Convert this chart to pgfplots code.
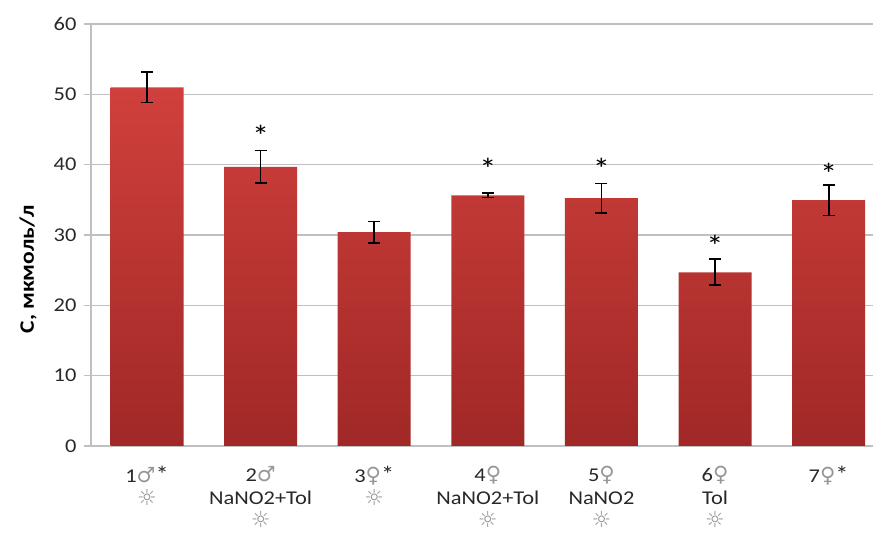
\documentclass[border=0pt]{standalone}
\usepackage{pgfplots}
\pgfplotsset{compat=1.18}
\usepackage{fontspec}
\setmainfont{Carlito}[FakeStretch=1.15]
\newfontfamily\sym{DejaVu Sans}
\definecolor{barTop}{RGB}{208,64,60}
\definecolor{barBot}{RGB}{160,40,38}
\definecolor{gridc}{RGB}{192,192,192}
\definecolor{symc}{RGB}{150,150,150}
\definecolor{txt}{RGB}{40,40,40}
\newcommand{\male}{{\sym\fontsize{21}{23}\selectfont\color{symc}♂}}
\newcommand{\female}{{\sym\fontsize{21}{23}\selectfont\color{symc}♀}}
\newcommand{\sun}{{\sym\fontsize{22}{23}\selectfont\color{symc}☼}}
\newcommand{\bigast}{{\fontsize{23}{23}\selectfont *}}
\pgfplotstableread{
x y e
0 51.0 2.15
1 39.7 2.3
2 30.4 1.5
3 35.65 0.3
4 35.25 2.1
5 24.7 1.85
6 34.95 2.15
}\datatable
\begin{document}
\begin{tikzpicture}
\begin{axis}[
  scale only axis,
  width=782pt, height=422pt,
  xmin=-0.493, xmax=6.39,
  ymin=0, ymax=60,
  ytick={0,10,...,60},
  xtick={0,...,6},
  xticklabels={
    {1\male\bigast\\\sun},
    {2\male\\NaNO2+Tol\\\sun},
    {3\female\bigast\\\sun},
    {4\female\\NaNO2+Tol\\\sun},
    {5\female\\NaNO2\\\sun},
    {6\female\\Tol\\\sun},
    {7\female\bigast}
  },
  axis x line*=bottom,
  axis y line*=left,
  axis line style={draw=gridc, line width=1.2pt, -},
  ymajorgrids,
  grid style={draw=gridc, line width=1.2pt},
  tick align=outside,
  major tick length=7pt,
  ytick style={draw=gridc, line width=1.2pt},
  xtick style={draw=none},
  /pgf/number format/assume math mode=true,
  yticklabel style={font=\fontsize{19.5}{21}\selectfont, text=txt, xshift=-4pt},
  xticklabel style={font=\fontsize{19.5}{23}\selectfont, text=txt, align=center, yshift=-10pt},
  ylabel={\textbf{C, мкмоль/л}},
  ylabel style={font=\fontsize{20.5}{24}\selectfont, text=black, at={(axis description cs:-0.0806,0.419)}, anchor=center},
]
\addplot[ybar, bar width=73pt, draw=none, top color=barTop, bottom color=barBot]
  table[x=x, y=y] {\datatable};
\addplot[draw=none, mark=none, forget plot,
  error bars/.cd, y dir=both, y explicit,
  error bar style={draw=black, solid, line width=1.6pt},
  error mark options={draw=black, solid, line width=1.6pt, rotate=90, mark size=6pt}]
  table[x=x, y=y, y error=e] {\datatable};
\node[anchor=base, yshift=-16pt, font=\fontsize{30}{32}\selectfont] at (axis cs:1,44.9) {*};
\node[anchor=base, yshift=-16pt, font=\fontsize{30}{32}\selectfont] at (axis cs:3,40.1) {*};
\node[anchor=base, yshift=-16pt, font=\fontsize{30}{32}\selectfont] at (axis cs:4,40.1) {*};
\node[anchor=base, yshift=-16pt, font=\fontsize{30}{32}\selectfont] at (axis cs:5,29.2) {*};
\node[anchor=base, yshift=-16pt, font=\fontsize{30}{32}\selectfont] at (axis cs:6,39.4) {*};
\end{axis}
\pgfresetboundingbox
\path (-91pt,-89pt) rectangle (782pt,446pt);
\end{tikzpicture}
\end{document}
